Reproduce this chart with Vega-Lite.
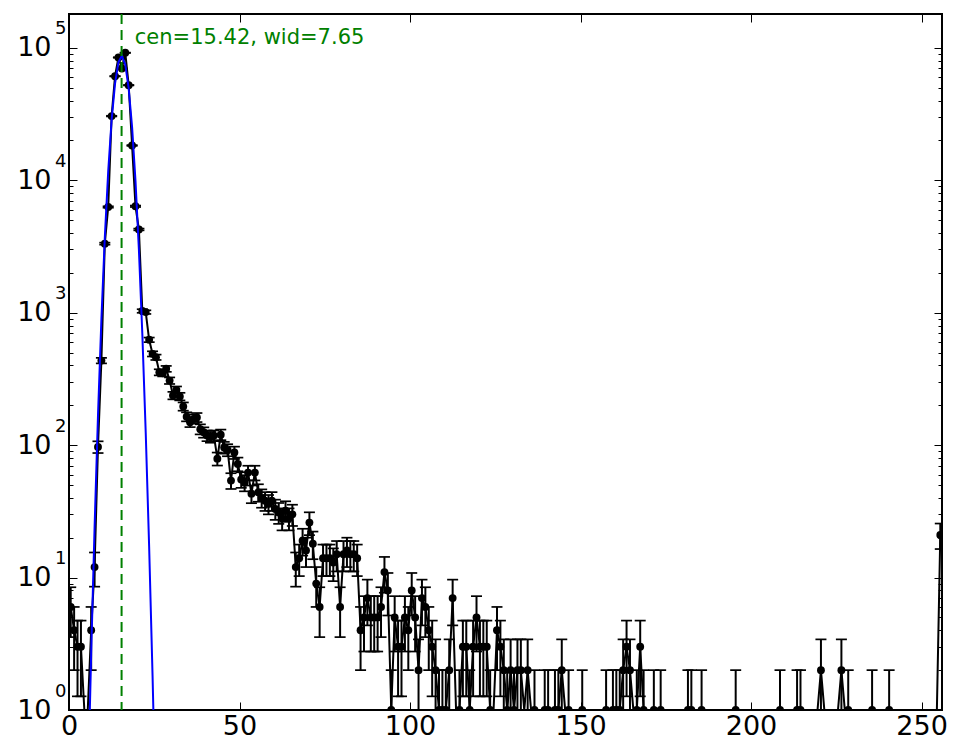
{
"$schema": "https://vega.github.io/schema/vega-lite/v6.json",
"width": 873, "height": 696,
"autosize": {"type": "none"},
"padding": {"left": 69, "top": 14, "right": 23, "bottom": 46},
"background": "white",
"config": {"view": {"stroke": "black", "strokeWidth": 2}, "axis": {"grid": false, "domain": false}},
"datasets": {
"hist": [
{"x":0.5,"n":6,"lo":3.551,"hi":8.449},{"x":1.5,"n":4,"lo":2,"hi":6},{"x":2.5,"n":3,"lo":1.268,"hi":4.732},{"x":3.5,"n":3,"lo":1.268,"hi":4.732},
{"x":4.5,"n":0},{"x":5.5,"n":0},{"x":6.5,"n":4,"lo":2,"hi":6},{"x":7.5,"n":12,"lo":8.536,"hi":15.464},
{"x":8.5,"n":97,"lo":87.151,"hi":106.849},{"x":9.5,"n":435,"lo":414.14,"hi":455.86},{"x":10.5,"n":3320,"lo":3262.4,"hi":3377.6},
{"x":11.5,"n":6280,"lo":6200.8,"hi":6359.2},{"x":12.5,"n":30500,"lo":30325,"hi":30675},{"x":13.5,"n":61000,"lo":60753,"hi":61247},
{"x":14.5,"n":84500,"lo":84209,"hi":84791},{"x":15.5,"n":69800,"lo":69536,"hi":70064},{"x":16.5,"n":91700,"lo":91397,"hi":92003},
{"x":17.5,"n":52200,"lo":51972,"hi":52428},{"x":18.5,"n":18300,"lo":18165,"hi":18435},{"x":19.5,"n":6360,"lo":6280.3,"hi":6439.7},
{"x":20.5,"n":4250,"lo":4184.8,"hi":4315.2},{"x":21.5,"n":1030,"lo":997.9,"hi":1062.1},{"x":22.5,"n":1010,"lo":978.2,"hi":1041.8},
{"x":23.5,"n":624,"lo":599.0,"hi":649.0},{"x":24.5,"n":489,"lo":466.9,"hi":511.1},{"x":25.5,"n":461,"lo":439.5,"hi":482.5},
{"x":26.5,"n":355,"lo":336.2,"hi":373.8},{"x":27.5,"n":349,"lo":330.3,"hi":367.7},{"x":28.5,"n":377,"lo":357.6,"hi":396.4},
{"x":29.5,"n":307,"lo":289.5,"hi":324.5},{"x":30.5,"n":237,"lo":221.6,"hi":252.4},{"x":31.5,"n":261,"lo":244.8,"hi":277.2},
{"x":32.5,"n":233,"lo":217.7,"hi":248.3},{"x":33.5,"n":196,"lo":182,"hi":210},{"x":34.5,"n":164,"lo":151.2,"hi":176.8},
{"x":35.5,"n":149,"lo":136.8,"hi":161.2},{"x":36.5,"n":158,"lo":145.4,"hi":170.6},{"x":37.5,"n":162,"lo":149.3,"hi":174.7},
{"x":38.5,"n":132,"lo":120.5,"hi":143.5},{"x":39.5,"n":125,"lo":113.8,"hi":136.2},{"x":40.5,"n":118,"lo":107.1,"hi":128.9},
{"x":41.5,"n":115,"lo":104.3,"hi":125.7},{"x":42.5,"n":118,"lo":107.1,"hi":128.9},{"x":43.5,"n":79,"lo":70.11,"hi":87.89},
{"x":44.5,"n":120,"lo":109.0,"hi":131.0},{"x":45.5,"n":96,"lo":86.2,"hi":105.8},{"x":46.5,"n":92,"lo":82.41,"hi":101.59},
{"x":47.5,"n":54,"lo":46.65,"hi":61.35},{"x":48.5,"n":88,"lo":78.62,"hi":97.38},{"x":49.5,"n":72,"lo":63.51,"hi":80.49},
{"x":50.5,"n":55,"lo":47.58,"hi":62.42},{"x":51.5,"n":52,"lo":44.79,"hi":59.21},{"x":52.5,"n":62,"lo":54.13,"hi":69.87},
{"x":53.5,"n":43,"lo":36.44,"hi":49.56},{"x":54.5,"n":62,"lo":54.13,"hi":69.87},{"x":55.5,"n":44,"lo":37.37,"hi":50.63},
{"x":56.5,"n":40,"lo":33.68,"hi":46.32},{"x":57.5,"n":38,"lo":31.84,"hi":44.16},{"x":58.5,"n":36,"lo":30,"hi":42},
{"x":59.5,"n":38,"lo":31.84,"hi":44.16},{"x":60.5,"n":33,"lo":27.26,"hi":38.74},{"x":61.5,"n":31,"lo":25.43,"hi":36.57},
{"x":62.5,"n":28,"lo":22.71,"hi":33.29},{"x":63.5,"n":32,"lo":26.34,"hi":37.66},{"x":64.5,"n":28,"lo":22.71,"hi":33.29},
{"x":65.5,"n":30,"lo":24.52,"hi":35.48},{"x":66.5,"n":12,"lo":8.536,"hi":15.464},{"x":67.5,"n":14,"lo":10.258,"hi":17.742},
{"x":68.5,"n":19,"lo":14.641,"hi":23.359},{"x":69.5,"n":16,"lo":12,"hi":20},{"x":70.5,"n":26,"lo":20.901,"hi":31.099},
{"x":71.5,"n":18,"lo":13.757,"hi":22.243},{"x":72.5,"n":9,"lo":6,"hi":12},{"x":73.5,"n":6,"lo":3.551,"hi":8.449},
{"x":74.5,"n":14,"lo":10.258,"hi":17.742},{"x":75.5,"n":14,"lo":10.258,"hi":17.742},{"x":76.5,"n":14,"lo":10.258,"hi":17.742},
{"x":77.5,"n":13,"lo":9.394,"hi":16.606},{"x":78.5,"n":15,"lo":11.127,"hi":18.873},{"x":79.5,"n":6,"lo":3.551,"hi":8.449},
{"x":80.5,"n":15,"lo":11.127,"hi":18.873},{"x":81.5,"n":16,"lo":12,"hi":20},{"x":82.5,"n":15,"lo":11.127,"hi":18.873},
{"x":83.5,"n":15,"lo":11.127,"hi":18.873},{"x":84.5,"n":14,"lo":10.258,"hi":17.742},{"x":85.5,"n":4,"lo":2,"hi":6},
{"x":86.5,"n":5,"lo":2.764,"hi":7.236},{"x":87.5,"n":7,"lo":4.354,"hi":9.646},{"x":88.5,"n":5,"lo":2.764,"hi":7.236},
{"x":89.5,"n":5,"lo":2.764,"hi":7.236},{"x":90.5,"n":5,"lo":2.764,"hi":7.236},{"x":91.5,"n":6,"lo":3.551,"hi":8.449},
{"x":92.5,"n":11,"lo":7.683,"hi":14.317},{"x":93.5,"n":8,"lo":5.172,"hi":10.828},{"x":94.5,"n":1,"lo":0,"hi":2},
{"x":95.5,"n":5,"lo":2.764,"hi":7.236},{"x":96.5,"n":3,"lo":1.268,"hi":4.732},{"x":97.5,"n":3,"lo":1.268,"hi":4.732},
{"x":98.5,"n":5,"lo":2.764,"hi":7.236},{"x":99.5,"n":4,"lo":2,"hi":6},{"x":100.5,"n":8,"lo":5.172,"hi":10.828},
{"x":101.5,"n":5,"lo":2.764,"hi":7.236},{"x":102.5,"n":2,"lo":0.586,"hi":3.414},{"x":103.5,"n":7,"lo":4.354,"hi":9.646},
{"x":104.5,"n":6,"lo":3.551,"hi":8.449},{"x":105.5,"n":4,"lo":2,"hi":6},{"x":106.5,"n":3,"lo":1.268,"hi":4.732},
{"x":107.5,"n":2,"lo":0.586,"hi":3.414},{"x":108.5,"n":1,"lo":0,"hi":2},{"x":109.5,"n":1,"lo":0,"hi":2},
{"x":110.5,"n":1,"lo":0,"hi":2},{"x":111.5,"n":2,"lo":0.586,"hi":3.414},{"x":112.5,"n":7,"lo":4.354,"hi":9.646},
{"x":113.5,"n":0},{"x":114.5,"n":1,"lo":0,"hi":2},{"x":115.5,"n":3,"lo":1.268,"hi":4.732},
{"x":116.5,"n":3,"lo":1.268,"hi":4.732},{"x":117.5,"n":1,"lo":0,"hi":2},{"x":118.5,"n":3,"lo":1.268,"hi":4.732},
{"x":119.5,"n":5,"lo":2.764,"hi":7.236},{"x":120.5,"n":3,"lo":1.268,"hi":4.732},{"x":121.5,"n":3,"lo":1.268,"hi":4.732},
{"x":122.5,"n":3,"lo":1.268,"hi":4.732},{"x":123.5,"n":1,"lo":0,"hi":2},{"x":124.5,"n":0},
{"x":125.5,"n":4,"lo":2,"hi":6},{"x":126.5,"n":3,"lo":1.268,"hi":4.732},{"x":127.5,"n":2,"lo":0.586,"hi":3.414},
{"x":128.5,"n":1,"lo":0,"hi":2},{"x":129.5,"n":2,"lo":0.586,"hi":3.414},{"x":130.5,"n":1,"lo":0,"hi":2},
{"x":131.5,"n":2,"lo":0.586,"hi":3.414},{"x":132.5,"n":2,"lo":0.586,"hi":3.414},{"x":133.5,"n":0},
{"x":134.5,"n":2,"lo":0.586,"hi":3.414},{"x":135.5,"n":0},{"x":136.5,"n":1,"lo":0,"hi":2},
{"x":137.5,"n":0},{"x":138.5,"n":0},{"x":139.5,"n":1,"lo":0,"hi":2},{"x":140.5,"n":1,"lo":0,"hi":2},
{"x":141.5,"n":0},{"x":142.5,"n":1,"lo":0,"hi":2},{"x":143.5,"n":1,"lo":0,"hi":2},{"x":144.5,"n":2,"lo":0.586,"hi":3.414},
{"x":145.5,"n":0},{"x":146.5,"n":1,"lo":0,"hi":2},{"x":147.5,"n":0},{"x":148.5,"n":0},{"x":149.5,"n":0},
{"x":150.5,"n":1,"lo":0,"hi":2},{"x":151.5,"n":0},{"x":152.5,"n":0},{"x":153.5,"n":0},{"x":154.5,"n":0},
{"x":155.5,"n":0},{"x":156.5,"n":0},{"x":157.5,"n":1,"lo":0,"hi":2},{"x":158.5,"n":0},
{"x":159.5,"n":1,"lo":0,"hi":2},{"x":160.5,"n":1,"lo":0,"hi":2},{"x":161.5,"n":1,"lo":0,"hi":2},
{"x":162.5,"n":2,"lo":0.586,"hi":3.414},{"x":163.5,"n":3,"lo":1.268,"hi":4.732},{"x":164.5,"n":2,"lo":0.586,"hi":3.414},
{"x":165.5,"n":0},{"x":166.5,"n":1,"lo":0,"hi":2},{"x":167.5,"n":3,"lo":1.268,"hi":4.732},{"x":168.5,"n":1,"lo":0,"hi":2},
{"x":169.5,"n":0},{"x":170.5,"n":0},{"x":171.5,"n":1,"lo":0,"hi":2},{"x":172.5,"n":0},{"x":173.5,"n":1,"lo":0,"hi":2},
{"x":174.5,"n":0},{"x":175.5,"n":0},{"x":176.5,"n":0},{"x":177.5,"n":0},{"x":178.5,"n":0},{"x":179.5,"n":0},{"x":180.5,"n":0},
{"x":181.5,"n":1,"lo":0,"hi":2},{"x":182.5,"n":1,"lo":0,"hi":2},{"x":183.5,"n":0},{"x":184.5,"n":0},
{"x":185.5,"n":1,"lo":0,"hi":2},{"x":186.5,"n":0},{"x":187.5,"n":0},{"x":188.5,"n":0},{"x":189.5,"n":0},{"x":190.5,"n":0},
{"x":191.5,"n":0},{"x":192.5,"n":0},{"x":193.5,"n":0},{"x":194.5,"n":0},{"x":195.5,"n":1,"lo":0,"hi":2},
{"x":196.5,"n":0},{"x":197.5,"n":0},{"x":198.5,"n":0},{"x":199.5,"n":0},{"x":200.5,"n":0},{"x":201.5,"n":0},
{"x":202.5,"n":0},{"x":203.5,"n":0},{"x":204.5,"n":0},{"x":205.5,"n":0},{"x":206.5,"n":0},{"x":207.5,"n":0},
{"x":208.5,"n":1,"lo":0,"hi":2},{"x":209.5,"n":0},{"x":210.5,"n":0},{"x":211.5,"n":0},{"x":212.5,"n":0},
{"x":213.5,"n":1,"lo":0,"hi":2},{"x":214.5,"n":1,"lo":0,"hi":2},{"x":215.5,"n":0},{"x":216.5,"n":0},{"x":217.5,"n":0},
{"x":218.5,"n":0},{"x":219.5,"n":0},{"x":220.5,"n":2,"lo":0.586,"hi":3.414},{"x":221.5,"n":0},{"x":222.5,"n":0},
{"x":223.5,"n":0},{"x":224.5,"n":0},{"x":225.5,"n":0},{"x":226.5,"n":2,"lo":0.586,"hi":3.414},{"x":227.5,"n":0},
{"x":228.5,"n":1,"lo":0,"hi":2},{"x":229.5,"n":0},{"x":230.5,"n":0},{"x":231.5,"n":0},{"x":232.5,"n":0},{"x":233.5,"n":0},
{"x":234.5,"n":0},{"x":235.5,"n":1,"lo":0,"hi":2},{"x":236.5,"n":0},{"x":237.5,"n":0},{"x":238.5,"n":0},{"x":239.5,"n":0},
{"x":240.5,"n":1,"lo":0,"hi":2},{"x":241.5,"n":0},{"x":242.5,"n":0},{"x":243.5,"n":0},{"x":244.5,"n":0},{"x":245.5,"n":0},
{"x":246.5,"n":0},{"x":247.5,"n":0},{"x":248.5,"n":0},{"x":249.5,"n":0},{"x":250.5,"n":0},{"x":251.5,"n":0},
{"x":252.5,"n":0},{"x":253.5,"n":0},{"x":254.5,"n":0},{"x":255.5,"n":21,"lo":16.417,"hi":25.583}
],
"fit": [
{"x":5.5,"fit":0.225},{"x":6.5,"fit":2.645},{"x":7.5,"fit":23.9},{"x":8.5,"fit":166.3},{"x":9.5,"fit":891},
{"x":10.5,"fit":3677},{"x":11.5,"fit":11667},{"x":12.5,"fit":28536},{"x":13.5,"fit":53731},{"x":14.5,"fit":77891},
{"x":15.5,"fit":86927},{"x":16.5,"fit":74698},{"x":17.5,"fit":49425},{"x":18.5,"fit":25178},{"x":19.5,"fit":9875},
{"x":20.5,"fit":2982},{"x":21.5,"fit":693},{"x":22.5,"fit":124},{"x":23.5,"fit":17.1},{"x":24.5,"fit":1.82},{"x":25.5,"fit":0.148}
]
},
"layer": [
{
"data": {"name": "hist"},
"transform": [{"filter": "datum.n > 0"}],
"mark": {"type": "rule", "color": "black", "strokeWidth": 2, "clip": true},
"encoding": {
"x": {"field": "x", "type": "quantitative", "scale": {"domain": [0, 256], "nice": false, "zero": false},
"axis": {"orient": "bottom", "values": [0, 50, 100, 150, 200, 250], "tickSize": -8, "tickColor": "black", "tickWidth": 1, "labelFont": "DejaVu Sans", "labelFontSize": 27, "labelColor": "black", "labelPadding": 11, "labelFlush": false, "labelOverlap": false, "title": null, "grid": false, "domain": false}},
"y": {"field": "lo", "type": "quantitative", "scale": {"type": "log", "domain": [1, 180000], "nice": false, "clamp": true},
"axis": {"orient": "left", "values": [1, 10, 100, 1000, 10000, 100000], "labelExpr": "'10'", "tickSize": -8, "tickColor": "black", "tickWidth": 1, "labelFont": "DejaVu Sans", "labelFontSize": 27, "labelColor": "black", "labelPadding": 26, "labelOverlap": false, "labelBaseline": "middle", "labelAlign": "right", "title": null, "grid": false, "domain": false}},
"y2": {"field": "hi"}
}
},
{
"data": {"name": "hist"},
"transform": [{"filter": "datum.n > 0 && datum.lo >= 1"}],
"mark": {"type": "tick", "orient": "horizontal", "size": 11, "thickness": 1.7, "color": "black", "opacity": 1, "clip": true},
"encoding": {
"x": {"field": "x", "type": "quantitative", "scale": {"domain": [0, 256], "nice": false, "zero": false},
"axis": {"orient": "top", "values": [0, 50, 100, 150, 200, 250], "tickSize": -8, "tickColor": "black", "tickWidth": 1, "labels": false, "title": null, "grid": false, "domain": false}},
"y": {"field": "lo", "type": "quantitative", "scale": {"type": "log", "domain": [1, 180000], "nice": false, "clamp": true},
"axis": {"orient": "left", "values": [2,3,4,5,6,7,8,9,20,30,40,50,60,70,80,90,200,300,400,500,600,700,800,900,2000,3000,4000,5000,6000,7000,8000,9000,20000,30000,40000,50000,60000,70000,80000,90000], "tickSize": -4, "tickColor": "black", "tickWidth": 1, "labels": false, "title": null, "grid": false, "domain": false}}
}
},
{
"data": {"name": "hist"},
"transform": [{"filter": "datum.n > 0"}],
"mark": {"type": "tick", "orient": "horizontal", "size": 11, "thickness": 1.7, "color": "black", "opacity": 1, "clip": true},
"encoding": {
"x": {"field": "x", "type": "quantitative", "scale": {"domain": [0, 256], "nice": false, "zero": false}, "axis": null},
"y": {"field": "hi", "type": "quantitative", "scale": {"type": "log", "domain": [1, 180000], "nice": false, "clamp": true},
"axis": {"orient": "right", "values": [1, 10, 100, 1000, 10000, 100000], "tickSize": -8, "tickColor": "black", "tickWidth": 1, "labels": false, "title": null, "grid": false, "domain": false}}
}
},
{
"data": {"name": "hist"},
"mark": {"type": "line", "color": "black", "strokeWidth": 2, "clip": true},
"encoding": {
"x": {"field": "x", "type": "quantitative", "scale": {"domain": [0, 256], "nice": false, "zero": false}, "axis": null},
"y": {"field": "n", "type": "quantitative", "scale": {"type": "log", "domain": [1, 180000], "nice": false, "clamp": true},
"axis": {"orient": "right", "values": [2,3,4,5,6,7,8,9,20,30,40,50,60,70,80,90,200,300,400,500,600,700,800,900,2000,3000,4000,5000,6000,7000,8000,9000,20000,30000,40000,50000,60000,70000,80000,90000], "tickSize": -4, "tickColor": "black", "tickWidth": 1, "labels": false, "title": null, "grid": false, "domain": false}}
}
},
{
"data": {"name": "hist"},
"transform": [{"filter": "datum.n > 0"}],
"mark": {"type": "circle", "size": 62, "color": "black", "opacity": 1, "clip": true},
"encoding": {
"x": {"field": "x", "type": "quantitative", "scale": {"domain": [0, 256], "nice": false, "zero": false}, "axis": null},
"y": {"field": "n", "type": "quantitative", "scale": {"type": "log", "domain": [1, 180000], "nice": false, "clamp": true},
"axis": {"orient": "left", "values": [1, 10, 100, 1000, 10000, 100000], "ticks": false, "labelExpr": "'' + round(log(datum.value) / LN10)", "labelFont": "DejaVu Sans", "labelFontSize": 18, "labelColor": "black", "labelAlign": "left", "labelBaseline": "middle", "labelPadding": 14.5, "labelOffset": -19, "labelOverlap": false, "title": null, "grid": false, "domain": false}}
}
},
{
"data": {"name": "fit"},
"mark": {"type": "line", "color": "#0000ff", "strokeWidth": 2, "clip": true},
"encoding": {
"x": {"field": "x", "type": "quantitative", "scale": {"domain": [0, 256], "nice": false, "zero": false}, "axis": null},
"y": {"field": "fit", "type": "quantitative", "scale": {"type": "log", "domain": [1, 180000], "nice": false}, "axis": null}
}
},
{
"data": {"values": [{"cen": 15.42, "wid": 7.65}]},
"mark": {"type": "rule", "color": "#008000", "strokeWidth": 2, "strokeDash": [10, 6]},
"encoding": {
"x": {"field": "cen", "type": "quantitative", "scale": {"domain": [0, 256], "nice": false, "zero": false}, "axis": null}
}
},
{
"data": {"values": [{"cen": 15.42, "wid": 7.65}]},
"mark": {"type": "text", "align": "left", "baseline": "alphabetic", "font": "DejaVu Sans", "fontSize": 21, "color": "#008000"},
"encoding": {
"x": {"datum": 19.3, "type": "quantitative", "scale": {"domain": [0, 256], "nice": false, "zero": false}, "axis": null},
"y": {"datum": 106000, "type": "quantitative", "scale": {"type": "log", "domain": [1, 180000], "nice": false}, "axis": null},
"text": {"value": "cen=15.42, wid=7.65"}
}
}
],
"resolve": {"scale": {"y": "independent"}, "axis": {"x": "independent", "y": "independent"}}
}
